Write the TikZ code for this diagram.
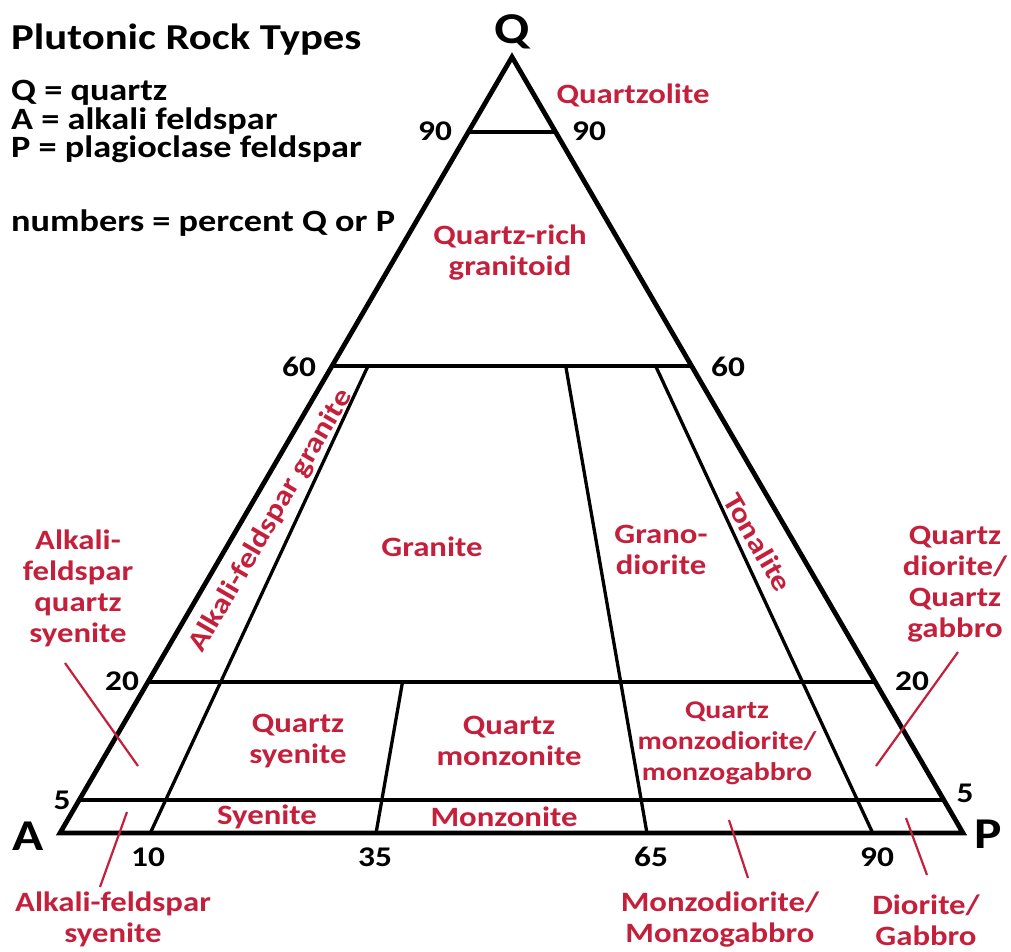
\documentclass[tikz,border=0pt]{standalone}
\usepackage{fontspec}
\newfontfamily\calib{Carlito}[FakeStretch=1.17]
\usetikzlibrary{calc}
\definecolor{rk}{RGB}{196,32,60}
\begin{document}
\begin{tikzpicture}[x=1pt,y=-1pt,
  tri/.style={line width=4.8pt,line join=miter},
  div/.style={line width=3.3pt},
  rl/.style={text=rk,font={\calib\bfseries\fontsize{28}{31}\selectfont},align=center,inner sep=0pt},
  rls/.style={text=rk,font={\calib\bfseries\fontsize{25.5}{31}\selectfont},align=center,inner sep=0pt},
  num/.style={font={\calib\bfseries\fontsize{28.5}{28}\selectfont},inner sep=0pt},
  vtx/.style={font={\calib\bfseries\fontsize{44}{44}\selectfont},inner sep=0pt},
  leg/.style={font={\calib\bfseries\fontsize{31}{28}\selectfont},inner sep=0pt,anchor=base west},
  lead/.style={draw=rk,line width=2.2pt}]
\useasboundingbox (0,0) rectangle (1011,951);
\fill[white] (0,0) rectangle (1011,951);
% corners
\coordinate (A) at (60,833);
\coordinate (P) at (963,833);
\coordinate (Q) at (512,57);
% horizontal lines
\coordinate (L90) at ($(A)!0.9034!(Q)$);  \coordinate (R90) at ($(P)!0.9034!(Q)$);
\coordinate (L60) at ($(A)!0.6018!(Q)$);  \coordinate (R60) at ($(P)!0.6018!(Q)$);
\coordinate (L20) at ($(A)!0.1946!(Q)$);  \coordinate (R20) at ($(P)!0.1946!(Q)$);
\coordinate (L05) at ($(A)!0.0425!(Q)$);  \coordinate (R05) at ($(P)!0.0425!(Q)$);
% dividing lines
\coordinate (B10) at ($(A)!0.10!(P)$); \coordinate (T10) at ($(B10)!0.6018!(Q)$);
\coordinate (B35) at ($(A)!0.35!(P)$); \coordinate (T35) at ($(B35)!0.1946!(Q)$);
\coordinate (B65) at ($(A)!0.65!(P)$); \coordinate (T65) at ($(B65)!0.6018!(Q)$);
\coordinate (B90) at ($(A)!0.90!(P)$); \coordinate (T90) at ($(B90)!0.6018!(Q)$);

\draw[div] (L90) -- (R90);
\draw[div] (L60) -- (R60);
\draw[div] (L20) -- (R20);
\draw[div] (L05) -- (R05);
\draw[div] (B10) -- (T10);
\draw[div] (B35) -- (T35);
\draw[div] (B65) -- (T65);
\draw[div] (B90) -- (T90);
\draw[tri] (A) -- (Q) -- (P) -- cycle;

% legend
\node[leg,font={\calib\bfseries\fontsize{36.5}{36}\selectfont}] (title) at (11,49) {Plutonic Rock Types};
\node[leg] (lq) at (11,100) {Q = quartz};
\node[leg] (la) at (11,129) {A = alkali feldspar};
\node[leg] (lp) at (11,157) {P = plagioclase feldspar};
\node[leg] (ln) at (11,231) {numbers = percent Q or P};

% vertex labels
\node[vtx] (vQ) at (512,32) {Q};
\node[vtx] (vA) at (28,836) {A};
\node[vtx] (vP) at (988,834) {P};

% numbers
\node[num] (n90l) at (435,131) {90};
\node[num] (n90r) at (589,131) {90};
\node[num] (n60l) at (299,367) {60};
\node[num] (n60r) at (728,367) {60};
\node[num] (n20l) at (122,681) {20};
\node[num] (n20r) at (912,681) {20};
\node[num] (n5l) at (62,800) {5};
\node[num] (n5r) at (965,793) {5};
\node[num] (n10) at (148,857) {10};
\node[num] (n35) at (375,857) {35};
\node[num] (n65) at (651,857) {65};
\node[num] (n90b) at (877,857) {90};

% rock names
\node[rl] (qzl) at (633,95) {Quartzolite};
\node[rl] (qrg) at (510,253) {Quartz-rich\\granitoid};
\node[rl,rotate=59.8] (afg) at (271,521) {Alkali-feldspar granite};
\node[rl] (gra) at (432,547) {Granite};
\node[rl] (gdi) at (661,550) {Grano-\\diorite};
\node[rl,rotate=-59.8] (ton) at (758,542) {Tonalite};
\node[rl] (afqs) at (78,588) {Alkali-\\feldspar\\quartz\\syenite};
\node[rl] (qdg) at (955,584) {Quartz\\diorite/\\Quartz\\gabbro};
\node[rl] (qsy) at (298,741) {Quartz\\syenite};
\node[rl] (qmz) at (509,741) {Quartz\\monzonite};
\node[rls] (qmd) at (727,743) {Quartz\\monzodiorite/\\monzogabbro};
\node[rl] (sye) at (267,817) {Syenite};
\node[rl] (mzn) at (504,817) {Monzonite};
\node[rl] (afs) at (113,919) {Alkali-feldspar\\syenite};
\node[rl] (mdg) at (720,920) {Monzodiorite/\\Monzogabbro};
\node[rl] (dgb) at (926,920) {Diorite/\\Gabbro};

% leaders
\coordinate (a1) at (65,663);  \coordinate (a2) at (138,766);
\coordinate (b1) at (100,887); \coordinate (b2) at (127,812);
\coordinate (c1) at (958,652); \coordinate (c2) at (876,766);
\coordinate (d1) at (748,878); \coordinate (d2) at (729,820);
\coordinate (e1) at (927,875); \coordinate (e2) at (906,818);
\draw[lead] (a1) -- (a2);
\draw[lead] (b1) -- (b2);
\draw[lead] (c1) -- (c2);
\draw[lead] (d1) -- (d2);
\draw[lead] (e1) -- (e2);
\end{tikzpicture}
\end{document}
